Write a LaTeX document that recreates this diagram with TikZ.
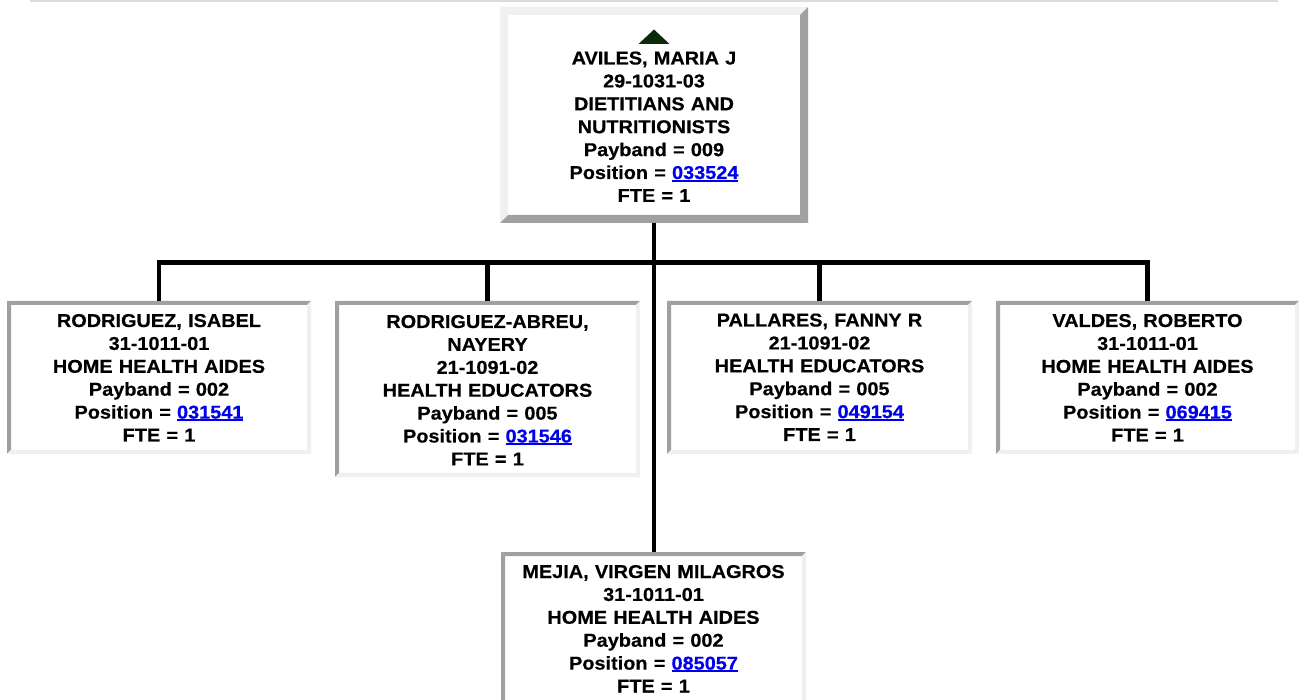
\documentclass[tikz,border=0pt]{standalone}
\usepackage{fontspec}
\setmainfont[FakeStretch=1.07,BoldFeatures={FakeBold=0.4}]{Liberation Sans}
\usetikzlibrary{calc}
\definecolor{bdark}{HTML}{A0A0A0}
\definecolor{blight}{HTML}{F0F0F0}
\definecolor{linkblue}{HTML}{0000EE}
\definecolor{tricol}{HTML}{0A2A0A}
\definecolor{rulegray}{HTML}{DCDCDC}
\newcommand\lnk[1]{{\color{linkblue}\setbox0\hbox{#1}\rlap{\rule[-2.6pt]{\wd0}{1.8pt}}\box0}}
\newcommand\bevel[4]{%
  \fill[#3] (#1.north west) -- (#1.north east) -- ($(#1.north east)+(-#2,#2)$) -- ($(#1.north west)+(#2,#2)$) -- cycle;
  \fill[#3] (#1.north west) -- ($(#1.north west)+(#2,#2)$) -- ($(#1.south west)+(#2,-#2)$) -- (#1.south west) -- cycle;
  \fill[#4] (#1.north east) -- (#1.south east) -- ($(#1.south east)+(-#2,-#2)$) -- ($(#1.north east)+(-#2,#2)$) -- cycle;
  \fill[#4] (#1.south west) -- (#1.south east) -- ($(#1.south east)+(-#2,-#2)$) -- ($(#1.south west)+(#2,-#2)$) -- cycle;
}
\tikzset{
  box/.style={rectangle, fill=white, inner sep=0pt, outer sep=0pt, anchor=north west},
  txt/.style={align=center, font=\fontsize{18.6}{22.9}\selectfont\bfseries, anchor=base, inner sep=0pt, text width=300pt},
  conn/.style={line width=4.3pt, black, line join=miter},
}
\begin{document}
\begin{tikzpicture}[x=1pt,y=-1pt]
\clip (0,0) rectangle (1299,700);
\fill[white] (0,0) rectangle (1299,700);
\draw[rulegray, line width=1.2pt] (30,1) -- (1278,1);

% boxes
\node[box, minimum width=308pt, minimum height=216pt] (top) at (500,7) {};
\node[box, minimum width=304pt, minimum height=153pt] (b1) at (7,301) {};
\node[box, minimum width=305pt, minimum height=176pt] (b2) at (335,301) {};
\node[box, minimum width=305pt, minimum height=153pt] (b3) at (667,301) {};
\node[box, minimum width=303pt, minimum height=153pt] (b4) at (996,301) {};
\node[box, minimum width=305pt, minimum height=160pt] (b5) at (501,552) {};

\bevel{top}{8}{blight}{bdark}
\bevel{b1}{4}{bdark}{blight}
\bevel{b2}{4}{bdark}{blight}
\bevel{b3}{4}{bdark}{blight}
\bevel{b4}{4}{bdark}{blight}
\bevel{b5}{4}{bdark}{blight}

% connectors
\coordinate (bar) at (654,262.5);
\draw[conn] (top.south) -- (top.south |- b5.north);
\draw[conn] (b1.north) -- (b1.north |- bar) -- (b4.north |- bar) -- (b4.north);
\draw[conn] (b2.north) -- (b2.north |- bar);
\draw[conn] (b3.north) -- (b3.north |- bar);

% triangle
\fill[tricol] (638.5,44) -- (654,29.5) -- (669.5,44) -- cycle;

% texts
\node[txt] (t0) at (654,64.5) {AVILES, MARIA J\\29-1031-03\\DIETITIANS AND\\NUTRITIONISTS\\Payband = 009\\Position = \lnk{033524}\\FTE = 1};
\node[txt] (t1) at (159,327) {RODRIGUEZ, ISABEL\\31-1011-01\\HOME HEALTH AIDES\\Payband = 002\\Position = \lnk{031541}\\FTE = 1};
\node[txt] (t2) at (487.5,328) {RODRIGUEZ-ABREU,\\NAYERY\\21-1091-02\\HEALTH EDUCATORS\\Payband = 005\\Position = \lnk{031546}\\FTE = 1};
\node[txt] (t3) at (819.5,326.5) {PALLARES, FANNY R\\21-1091-02\\HEALTH EDUCATORS\\Payband = 005\\Position = \lnk{049154}\\FTE = 1};
\node[txt] (t4) at (1147.5,327) {VALDES, ROBERTO\\31-1011-01\\HOME HEALTH AIDES\\Payband = 002\\Position = \lnk{069415}\\FTE = 1};
\node[txt] (t5) at (653.5,578) {MEJIA, VIRGEN MILAGROS\\31-1011-01\\HOME HEALTH AIDES\\Payband = 002\\Position = \lnk{085057}\\FTE = 1};
\end{tikzpicture}
\end{document}
